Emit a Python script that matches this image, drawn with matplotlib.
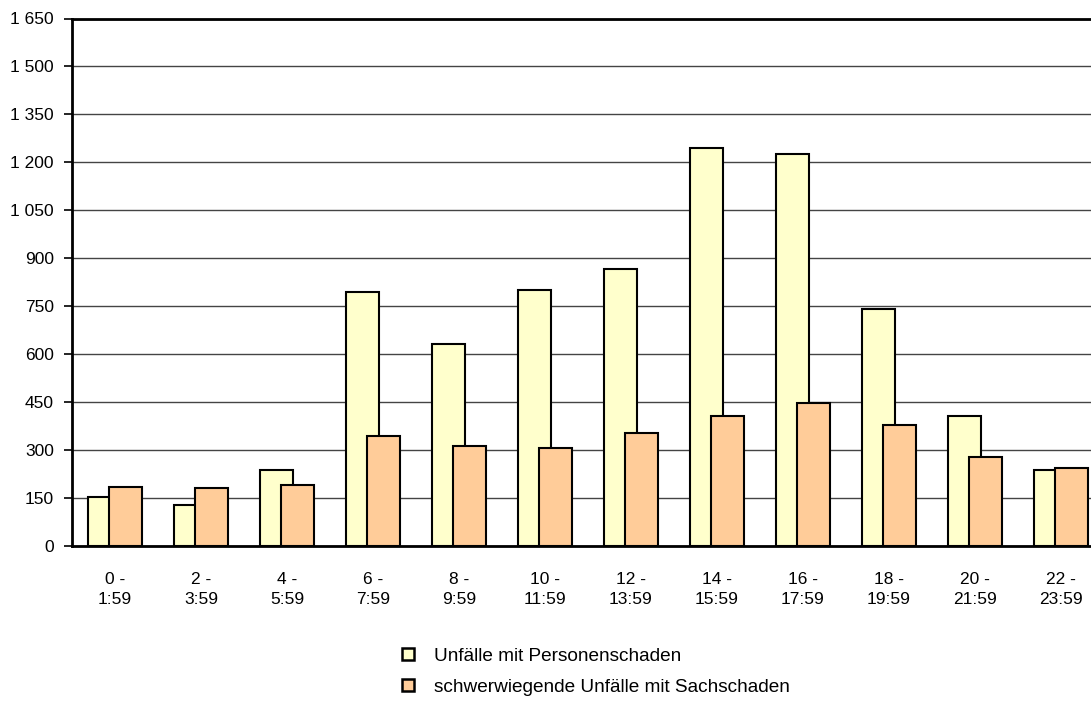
import matplotlib
matplotlib.use("Agg")
import matplotlib.pyplot as plt
from matplotlib.patches import Patch
import numpy as np

plt.rcParams['font.family'] = ['Liberation Sans', 'DejaVu Sans']

zeitraum = ["0 -\n1:59", "2 -\n3:59", "4 -\n5:59", "6 -\n7:59", "8 -\n9:59",
            "10 -\n11:59", "12 -\n13:59", "14 -\n15:59", "16 -\n17:59",
            "18 -\n19:59", "20 -\n21:59", "22 -\n23:59"]
personenschaden = [153, 127, 238, 796, 631, 802, 868, 1245, 1225, 741, 406, 239]
sachschaden = [183, 181, 190, 345, 312, 305, 354, 407, 446, 380, 277, 243]
yticks = list(range(0, 1651, 150))

gelb = '#FFFFCC'
orange = '#FFCC99'

fig = plt.figure(figsize=(10.91, 7.02), dpi=100)
ax = fig.add_axes([72 / 1091, 156 / 702, 1032 / 1091, 527.5 / 702])

x = np.arange(len(zeitraum))
breite = 0.395
ax.bar(x - 0.122, personenschaden, breite, color=gelb, edgecolor='black',
       linewidth=1.5, zorder=3)
ax.bar(x + 0.122, sachschaden, breite, color=orange, edgecolor='black',
       linewidth=1.5, zorder=4)

ax.set_xlim(-0.5, len(zeitraum) - 0.5)
ax.set_ylim(0, 1650)
ax.set_yticks(yticks)
ax.set_yticklabels([f"{v:,}".replace(",", " ") for v in yticks], fontsize=12.5)
ax.set_xticks(x)
ax.set_xticklabels(zeitraum, fontsize=12.5, linespacing=1.4)
ax.tick_params(axis='x', length=0, pad=19)
ax.tick_params(axis='y', length=6, width=1.2, direction='out', pad=7)

ax.yaxis.grid(True, color='#444444', linewidth=1.0, zorder=0)
ax.set_axisbelow(True)
for s in ['left', 'bottom', 'top']:
    ax.spines[s].set_linewidth(2)
    ax.spines[s].set_color('black')
ax.spines['right'].set_visible(False)

handles = [Patch(facecolor=gelb, edgecolor='black', linewidth=1.8),
           Patch(facecolor=orange, edgecolor='black', linewidth=1.8)]
fig.legend(handles, ["Unfälle mit Personenschaden",
                     "schwerwiegende Unfälle mit Sachschaden"],
           loc='upper left', bbox_to_anchor=(402 / 1091, 1 - 648 / 702),
           frameon=False, fontsize=13.7, handlelength=0.62, handleheight=0.62,
           handletextpad=1.05, labelspacing=0.72, borderpad=0, borderaxespad=0)

fig.savefig("out.png", dpi=100)
